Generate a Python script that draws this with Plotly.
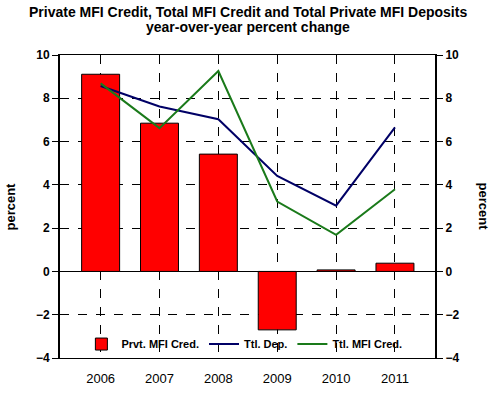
import plotly.graph_objects as go

years = ["2006", "2007", "2008", "2009", "2010", "2011"]
prvt_mfi_cred = [9.11, 6.85, 5.42, -2.70, 0.07, 0.38]
ttl_dep = [8.57, 7.62, 7.03, 4.41, 3.04, 6.66]
ttl_mfi_cred = [8.69, 6.62, 9.26, 3.23, 1.69, 3.80]
y_ticks = [-4, -2, 0, 2, 4, 6, 8, 10]
title_lines = ["Private MFI Credit, Total MFI Credit and Total Private MFI Deposits",
               "year-over-year percent change"]
y_title = "percent"

FONT = "Liberation Sans, Arial, sans-serif"

fig = go.Figure()
fig.add_trace(go.Bar(
    x=years, y=prvt_mfi_cred, name="Prvt. MFI Cred.",
    marker=dict(color="#ff0000", line=dict(color="#000000", width=1)),
    width=0.645,
))
fig.add_trace(go.Scatter(
    x=years, y=ttl_dep, name="Ttl. Dep.", mode="lines",
    line=dict(color="#000066", width=2),
))
fig.add_trace(go.Scatter(
    x=years, y=ttl_mfi_cred, name="Ttl. MFI Cred.", mode="lines",
    line=dict(color="#1a7a1a", width=2),
))
# invisible trace to activate the right axis
fig.add_trace(go.Scatter(x=years, y=ttl_dep, yaxis="y2", mode="lines",
                         line=dict(width=0), showlegend=False, hoverinfo="skip", opacity=0))

annotations = [
    dict(text="<b>" + title_lines[0] + "</b>", xref="paper", yref="paper", x=0.5, y=1.142,
         xanchor="center", yanchor="middle", showarrow=False, font=dict(size=14, family=FONT, color="black")),
    dict(text="<b>" + title_lines[1] + "</b>", xref="paper", yref="paper", x=0.5, y=1.092,
         xanchor="center", yanchor="middle", showarrow=False, font=dict(size=14, family=FONT, color="black")),
    dict(text="<b>" + y_title + "</b>", xref="paper", yref="paper", x=-0.1333, y=0.5, textangle=-90,
         xanchor="center", yanchor="middle", showarrow=False, font=dict(size=13, family=FONT, color="black")),
    dict(text="<b>" + y_title + "</b>", xref="paper", yref="paper", x=1.128, y=0.5, textangle=90,
         xanchor="center", yanchor="middle", showarrow=False, font=dict(size=13, family=FONT, color="black")),
]

fig.update_layout(
    width=495, height=399,
    margin=dict(l=60, r=60, t=55, b=41, autoexpand=False),
    paper_bgcolor="white", plot_bgcolor="white",
    font=dict(family=FONT, color="black"),
    annotations=annotations,
    showlegend=True,
    legend=dict(
        orientation="h", x=0.057, xanchor="left", y=0.046, yanchor="middle",
        bgcolor="rgba(0,0,0,0)", font=dict(size=11, family=FONT, weight="bold"),
        itemwidth=30, tracegroupgap=0,
    ),
    xaxis=dict(
        type="category", range=[-0.69, 5.68], automargin=False,
        showline=True, linecolor="black", linewidth=1, mirror=True,
        showgrid=True, gridcolor="black", gridwidth=1, griddash="dash",
        ticks="", tickfont=dict(size=13, family=FONT, color="black"),
        ticklabelstandoff=8,
    ),
    yaxis=dict(
        range=[-4, 10], tickvals=y_ticks, automargin=False,
        showline=True, linecolor="black", linewidth=2,
        showgrid=True, gridcolor="black", gridwidth=1, griddash="dash",
        zeroline=True, zerolinecolor="black", zerolinewidth=1,
        ticks="outside", ticklen=6, tickcolor="black",
        tickfont=dict(size=12, family=FONT, weight="bold"),
    ),
    yaxis2=dict(
        range=[-4, 10], tickvals=y_ticks, overlaying="y", side="right", automargin=False,
        showline=True, linecolor="black", linewidth=2,
        showgrid=False, zeroline=False,
        ticks="outside", ticklen=6, tickcolor="black",
        tickfont=dict(size=12, family=FONT, weight="bold"),
    ),
)

# remove the default page margin so the figure sits at the window's top-left corner
fig.write_html("out.html", config={"displayModeBar": False},
               post_script="document.body.style.margin='0';")
